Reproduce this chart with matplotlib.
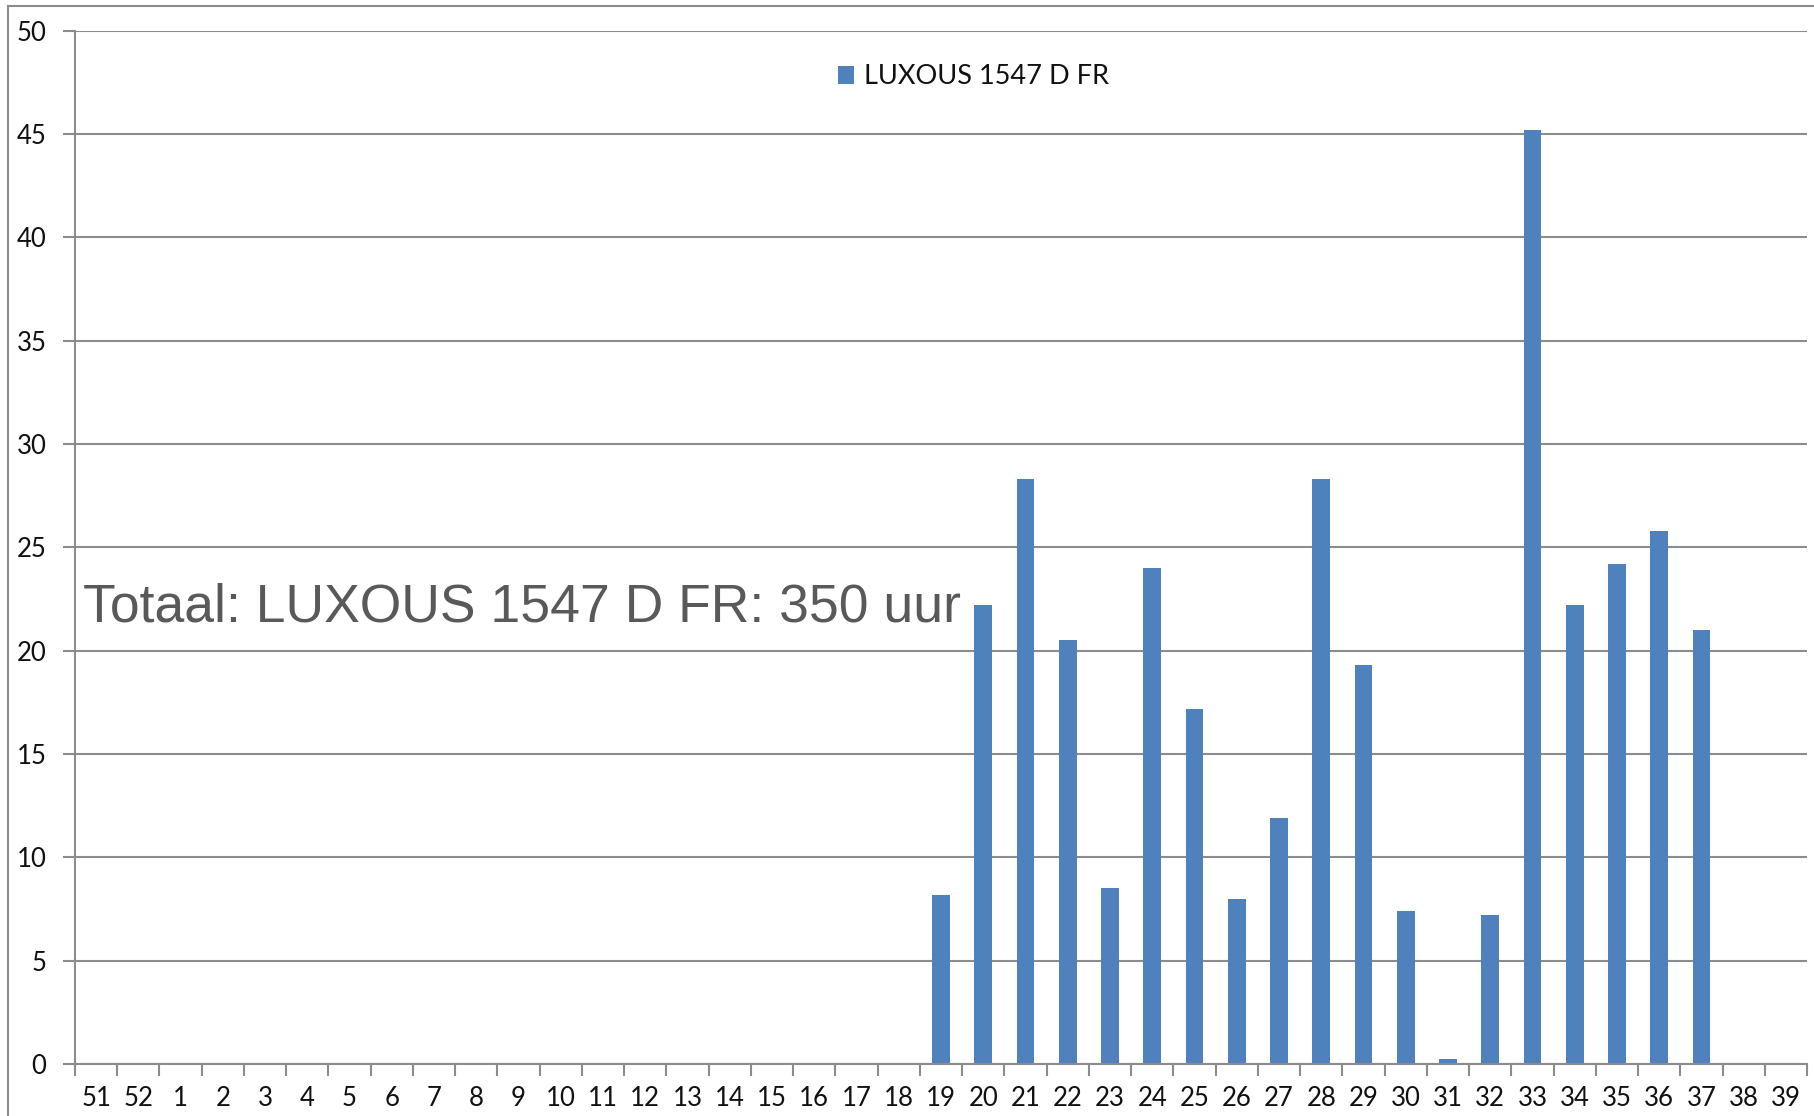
import matplotlib
matplotlib.use("Agg")
import matplotlib.pyplot as plt
from matplotlib.lines import Line2D
import numpy as np

plt.rcParams['font.family'] = ['Lato', 'DejaVu Sans']

# weeknummers en uren
weken = ['51', '52'] + [str(w) for w in range(1, 40)]
uren = [0, 0] + [0] * 18 + [8.2, 22.2, 28.3, 20.5, 8.5, 24.0, 17.2, 8.0, 11.9,
                            28.3, 19.3, 7.4, 0.25, 7.2, 45.2, 22.2, 24.2, 25.8,
                            21.0, 0, 0]
reeks = 'LUXOUS 1547 D FR'
totaal_tekst = 'Totaal: LUXOUS 1547 D FR: 350 uur'

grijs = '#8c8c8c'
blauw = '#4f81bd'

fig = plt.figure(figsize=(18.15, 11.16), dpi=100)
ax = fig.add_axes([75 / 1815, 1 - 1064 / 1116, (1807 - 75) / 1815, (1064 - 30.7) / 1116])

x = np.arange(len(weken))
ax.bar(x, uren, width=0.42, color=blauw, label=reeks, zorder=3)

ax.set_xlim(-0.5, len(weken) - 0.5)
ax.set_ylim(0, 50)
ax.set_yticks(range(0, 51, 5))
ax.yaxis.grid(True, color=grijs, linewidth=1.5, zorder=0)

ax.set_xticks(x)
ax.set_xticklabels(weken)
ax.set_xticks(np.arange(-0.5, len(weken)), minor=True)
ax.tick_params(axis='x', which='major', length=0, pad=16, labelsize=18.5, labelcolor='#111111')
ax.tick_params(axis='x', which='minor', length=8.5, width=1.5, color=grijs)
ax.tick_params(axis='y', length=8.5, width=1.5, color=grijs, pad=12, labelsize=18.5,
               labelcolor='#111111')

for s in ['top', 'right']:
    ax.spines[s].set_visible(False)
for s in ['left', 'bottom']:
    ax.spines[s].set_color(grijs)
    ax.spines[s].set_linewidth(1.5)
    ax.spines[s].set_zorder(4)

ax.text(0.0046, 0.428, totaal_tekst, transform=ax.transAxes, fontsize=38.5,
        family=['Liberation Sans', 'DejaVu Sans'], color='#595959', va='baseline',
        ha='left', zorder=5)

fig.legend(loc='center left', bbox_to_anchor=(838 / 1815, 1 - 77 / 1116), frameon=False,
           fontsize=19.5, handlelength=0.6, handleheight=0.6, handletextpad=0.35,
           borderpad=0, borderaxespad=0, labelcolor='#111111')

# rand van de grafiek
fig.add_artist(Line2D([8 / 1815, 8 / 1815], [0, 1 - 6 / 1116], color=grijs, linewidth=1.5))
fig.add_artist(Line2D([8 / 1815, 1], [1 - 6 / 1116, 1 - 6 / 1116], color=grijs, linewidth=1.5))

fig.savefig('out.png', dpi=100)
